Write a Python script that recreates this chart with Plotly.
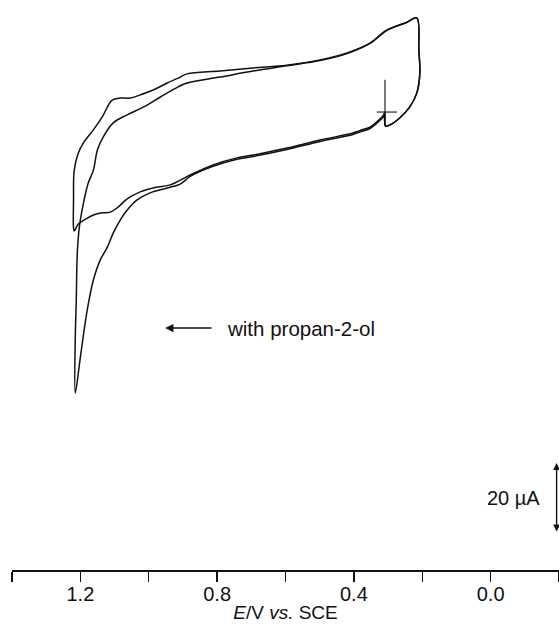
import plotly.graph_objects as go

# ---- data (E in V vs SCE, I in microampere, arbitrary zero) ----
lower_E = [0.310, 0.315, 0.333, 0.353, 0.383, 0.403, 0.499, 0.596, 0.695, 0.742, 0.812, 0.879]
lower_I = [53.4, 52.6, 50.9, 49.4, 48.4, 47.7, 45.7, 43.4, 41.4, 40.6, 38.6, 35.7]

# without propan-2-ol
a_left_E = [0.937, 0.987, 1.025, 1.063, 1.089, 1.112, 1.136, 1.162, 1.185, 1.206, 1.218]
a_left_I = [32.9, 32.0, 30.9, 28.9, 26.6, 25.1, 24.9, 24.3, 23.1, 21.7, 19.7]
a_upper_E = [1.220, 1.220, 1.218, 1.206, 1.191, 1.162, 1.136, 1.107, 1.083, 1.054, 1.025,
             0.987, 0.946, 0.914, 0.888, 0.791, 0.695, 0.596, 0.499, 0.420, 0.353, 0.304,
             0.245, 0.216]
a_upper_I = [20.6, 28.6, 37.1, 42.0, 44.9, 48.6, 52.3, 57.1, 57.7, 57.7, 58.6,
             60.0, 62.0, 63.4, 64.6, 65.4, 66.3, 67.1, 68.6, 70.6, 73.4, 77.1,
             79.4, 80.6]

# with propan-2-ol
b_left_E = [0.908, 0.946, 0.996, 1.034, 1.063, 1.083, 1.104, 1.121, 1.142, 1.162, 1.180,
            1.200, 1.215]
b_left_I = [33.1, 32.0, 30.6, 28.6, 25.7, 22.9, 19.1, 15.1, 11.4, 5.7, -2.9,
            -16.3, -26.6]
b_upper_E = [1.215, 1.212, 1.209, 1.203, 1.191, 1.177, 1.162, 1.150, 1.133, 1.104, 1.063,
             1.016, 0.966, 0.914, 0.888, 0.791, 0.695, 0.596, 0.499, 0.420, 0.353, 0.304,
             0.245, 0.216]
b_upper_I = [-11.4, 0.0, 13.4, 20.9, 27.7, 33.4, 37.1, 42.9, 46.6, 50.6, 52.9,
             55.1, 58.0, 60.9, 62.0, 63.7, 65.4, 66.9, 68.4, 70.4, 73.3, 77.0,
             79.3, 80.6]

right_E = [0.210, 0.207, 0.216, 0.237, 0.266, 0.295, 0.307, 0.310]
right_I = [71.4, 64.9, 59.1, 55.1, 52.0, 50.0, 49.7, 53.4]

start_E = 0.309
start_I = 53.7

tick_vals = [1.4, 1.2, 1.0, 0.8, 0.6, 0.4, 0.2, 0.0, -0.2]
label_vals = [1.2, 0.8, 0.4, 0.0]
label_text = ["1.2", "0.8", "0.4", "0.0"]

note_text = "with propan-2-ol"
note_E = 0.776
note_I = -8.0
arrow_from_E = 0.812
arrow_to_E = 0.952

scale_value = 20.0
scale_E = -0.193
scale_top_I = -46.6
scale_text = "20 \u00b5A"

FONT = "Liberation Sans, Arial, Helvetica, sans-serif"
INK = "#111111"
LINE = dict(color=INK, width=1.5)

loopA_E = lower_E + a_left_E + a_upper_E + right_E
loopA_I = lower_I + a_left_I + a_upper_I + right_I
loopB_E = lower_E + b_left_E + b_upper_E + right_E
loopB_I = [v - 0.4 for v in lower_I] + b_left_I + b_upper_I + right_I

fig = go.Figure()
fig.add_trace(go.Scatter(x=loopA_E, y=loopA_I, mode="lines", line=LINE,
                         line_shape="spline", hoverinfo="skip", showlegend=False))
fig.add_trace(go.Scatter(x=loopB_E, y=loopB_I, mode="lines", line=LINE,
                         line_shape="spline", hoverinfo="skip", showlegend=False))

# start-potential cross
fig.add_trace(go.Scatter(x=[start_E, start_E], y=[start_I - 4.0, start_I + 9.2], mode="lines",
                         line=dict(color=INK, width=1.1), hoverinfo="skip", showlegend=False))
fig.add_trace(go.Scatter(x=[start_E + 0.024, start_E - 0.035], y=[start_I, start_I], mode="lines",
                         line=dict(color=INK, width=1.1), hoverinfo="skip", showlegend=False))

# arrow + label
fig.add_annotation(x=arrow_to_E, y=note_I, ax=arrow_from_E, ay=note_I, xref="x", yref="y",
                   axref="x", ayref="y", text="", showarrow=True, arrowhead=2, arrowsize=1.1,
                   arrowwidth=1.5, arrowcolor=INK, standoff=0, startstandoff=0)
fig.add_annotation(x=note_E, y=note_I, xref="x", yref="y", text=note_text, showarrow=False,
                   xanchor="left", yanchor="middle", font=dict(family=FONT, size=20.5, color=INK))

# scale bar
fig.add_annotation(x=scale_E, y=scale_top_I, ax=scale_E, ay=scale_top_I - scale_value,
                   xref="x", yref="y", axref="x", ayref="y", text="", showarrow=True,
                   arrowhead=2, arrowside="end+start", arrowsize=1, arrowwidth=1.4,
                   arrowcolor=INK, standoff=0, startstandoff=0)
fig.add_annotation(x=scale_E + 0.044, y=scale_top_I - scale_value / 2, xref="x", yref="y",
                   text=scale_text, showarrow=False, xanchor="right", yanchor="middle",
                   font=dict(family=FONT, size=20, color=INK))

fig.update_layout(
    width=559, height=630,
    margin=dict(l=12, r=0, t=0, b=60),
    paper_bgcolor="white", plot_bgcolor="white",
    xaxis=dict(range=[1.4, -0.2], tickmode="array", tickvals=label_vals, ticktext=label_text,
               showgrid=False, zeroline=False, showline=True, linecolor=INK, linewidth=1.5,
               ticks="", ticklabelstandoff=5,
               minor=dict(tickmode="array", tickvals=tick_vals, ticks="outside", ticklen=10,
                          tickwidth=1.3, tickcolor=INK, showgrid=False),
               tickfont=dict(family=FONT, size=20, color=INK),
               title=dict(text="<i>E</i>/V <i>vs.</i> SCE", standoff=2,
                          font=dict(family=FONT, size=19, color=INK))),
    yaxis=dict(range=[-77.14, 85.71], visible=False),
)

# remove the page's default body margin / scrollbars so the figure fills the window exactly
fig.write_html("out.html",
               config={"displayModeBar": False, "staticPlot": True},
               post_script="document.body.style.margin='0';document.body.style.overflow='hidden';"
                           "document.documentElement.style.overflow='hidden';")
